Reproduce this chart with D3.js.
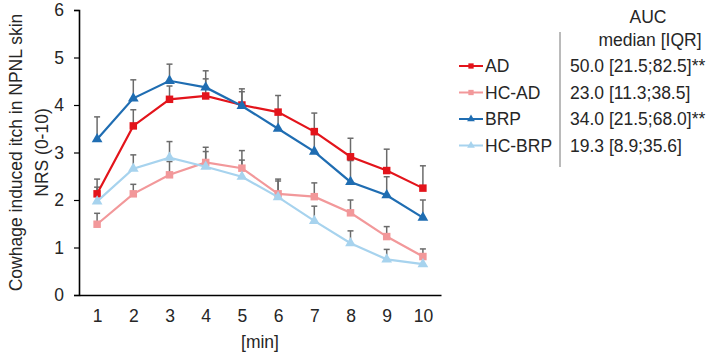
<!DOCTYPE html>
<html>
<head>
<meta charset="utf-8">
<script src="https://cdn.jsdelivr.net/npm/d3@7"></script>
<style>
  body { margin: 0; background: #fff; }
  svg text { font-family: "Liberation Sans", Arial, sans-serif; fill: #262626; }
</style>
</head>
<body>
<div id="chart"></div>
<script>
let width = 708,
    height = 361,
    margin = ({ top: 10, right: 267, bottom: 66, left: 79 });

// data
const minutes = [1, 2, 3, 4, 5, 6, 7, 8, 9, 10];
const seriesNames = ["AD", "HC-AD", "BRP", "HC-BRP"];
const adMean = [2.13, 3.56, 4.12, 4.19, 4.00, 3.85, 3.44, 2.91, 2.62, 2.25];
const adUpper = [2.44, 3.90, 4.40, 4.55, 4.34, 4.20, 3.83, 3.30, 3.07, 2.72];
const hcAdMean = [1.49, 2.13, 2.53, 2.79, 2.67, 2.13, 2.07, 1.73, 1.23, 0.81];
const hcAdUpper = [1.72, 2.33, 2.81, 3.11, 3.04, 2.44, 2.36, 2.00, 1.44, 0.97];
const brpMean = [3.28, 4.14, 4.51, 4.37, 3.98, 3.50, 3.02, 2.38, 2.10, 1.63];
const brpUpper = [3.75, 4.53, 4.86, 4.72, 4.28, 3.83, 3.38, 2.83, 2.49, 2.00];
const hcBrpMean = [1.97, 2.66, 2.89, 2.70, 2.49, 2.06, 1.56, 1.09, 0.75, 0.65];
const hcBrpUpper = [2.27, 2.95, 3.23, 3.02, 2.84, 2.40, 1.87, 1.35, 0.96, 0.82];
const aucLabels = ["50.0 [21.5;82.5]**", "23.0 [11.3;38.5]", "34.0 [21.5;68.0]**", "19.3 [8.9;35.6]"];

const series = [
  { name: seriesNames[0], mean: adMean, upper: adUpper, color: "#e3141b", shape: d3.symbolSquare },
  { name: seriesNames[1], mean: hcAdMean, upper: hcAdUpper, color: "#f2989a", shape: d3.symbolSquare },
  { name: seriesNames[2], mean: brpMean, upper: brpUpper, color: "#1f6db2", shape: d3.symbolTriangle },
  { name: seriesNames[3], mean: hcBrpMean, upper: hcBrpUpper, color: "#a7d3ee", shape: d3.symbolTriangle }
];

const fontSize = "17.5px";

const svg = d3.select("#chart")
  .append("svg")
  .attr("width", width)
  .attr("height", height);

let x = d3.scalePoint()
  .domain(minutes)
  .range([margin.left, width - margin.right])
  .padding(0.5);

let y = d3.scaleLinear()
  .domain([0, 6])
  .range([height - margin.bottom, margin.top]);

// axes
const yAxis = svg.append("g")
  .attr("transform", `translate(${margin.left},0)`)
  .call(d3.axisLeft(y).ticks(6).tickSize(5).tickPadding(10));
yAxis.select(".domain").attr("stroke", "#000").attr("stroke-width", 1.6);
yAxis.selectAll(".tick line").attr("stroke", "#000").attr("stroke-width", 1.2);
yAxis.selectAll("text").style("font-size", fontSize).attr("fill", "#262626");

const xAxis = svg.append("g")
  .attr("transform", `translate(0,${height - margin.bottom})`)
  .call(d3.axisBottom(x).tickSize(0).tickPadding(15).tickSizeOuter(0));
xAxis.select(".domain").attr("stroke", "#000").attr("stroke-width", 1.6);
xAxis.selectAll("text").style("font-size", fontSize).attr("fill", "#262626");

svg.append("text")
  .attr("x", (margin.left + width - margin.right) / 2)
  .attr("y", 348)
  .attr("text-anchor", "middle")
  .style("font-size", fontSize)
  .text("[min]");

// y title, two lines
const yTitle = svg.append("text")
  .attr("transform", `translate(0,${(y(0) + y(6)) / 2}) rotate(-90)`)
  .attr("text-anchor", "middle")
  .style("font-size", fontSize);
yTitle.append("tspan").attr("x", 0).attr("y", 22).text("Cowhage induced itch in NPNL skin");
yTitle.append("tspan").attr("x", 0).attr("y", 48).text("NRS (0-10)");

// error bars (upper only)
const errG = svg.append("g")
  .attr("stroke", "#6b6b6b")
  .attr("stroke-width", 1.5);

series.forEach(s => {
  const pts = minutes.map((m, i) => ({ m, v: s.mean[i], u: s.upper[i] }));
  const g = errG.append("g");
  g.selectAll("line.bar")
    .data(pts)
    .join("line")
    .attr("class", "bar")
    .attr("x1", d => x(d.m))
    .attr("x2", d => x(d.m))
    .attr("y1", d => y(d.v))
    .attr("y2", d => y(d.u));
  g.selectAll("line.cap")
    .data(pts)
    .join("line")
    .attr("class", "cap")
    .attr("x1", d => x(d.m) - 3)
    .attr("x2", d => x(d.m) + 3)
    .attr("y1", d => y(d.u))
    .attr("y2", d => y(d.u));
});

// lines and markers
const line = d3.line()
  .x((d, i) => x(minutes[i]))
  .y(d => y(d));

series.forEach(s => {
  svg.append("path")
    .datum(s.mean)
    .attr("fill", "none")
    .attr("stroke", s.color)
    .attr("stroke-width", 2.2)
    .attr("d", line);

  svg.append("g")
    .selectAll("path")
    .data(s.mean)
    .join("path")
    .attr("transform", (d, i) => `translate(${x(minutes[i])},${y(d)})`)
    .attr("d", d3.symbol().type(s.shape).size(s.shape === d3.symbolSquare ? 56 : 50))
    .attr("fill", s.color);
});

// legend
const rowY = d3.scalePoint().domain(seriesNames).range([66, 145.5]);

const legend = svg.append("g");
series.forEach(s => {
  const cy = rowY(s.name);
  legend.append("line")
    .attr("x1", 459).attr("x2", 483)
    .attr("y1", cy).attr("y2", cy)
    .attr("stroke", s.color)
    .attr("stroke-width", 2);
  legend.append("path")
    .attr("transform", `translate(471,${cy})`)
    .attr("d", d3.symbol().type(s.shape).size(s.shape === d3.symbolSquare ? 28 : 26))
    .attr("fill", s.color);
  legend.append("text")
    .attr("x", 485)
    .attr("y", cy + 6)
    .style("font-size", fontSize)
    .text(s.name);
});

legend.append("line")
  .attr("x1", 560).attr("x2", 560)
  .attr("y1", 32).attr("y2", 167)
  .attr("stroke", "#777")
  .attr("stroke-width", 1);

legend.append("text")
  .attr("x", 648).attr("y", 23)
  .attr("text-anchor", "middle")
  .style("font-size", fontSize)
  .text("AUC");
legend.append("text")
  .attr("x", 650).attr("y", 46)
  .attr("text-anchor", "middle")
  .style("font-size", fontSize)
  .text("median [IQR]");

legend.selectAll("text.auc")
  .data(aucLabels)
  .join("text")
  .attr("class", "auc")
  .attr("x", 570)
  .attr("y", (d, i) => rowY(seriesNames[i]) + 6)
  .style("font-size", fontSize)
  .text(d => d);
</script>
</body>
</html>
